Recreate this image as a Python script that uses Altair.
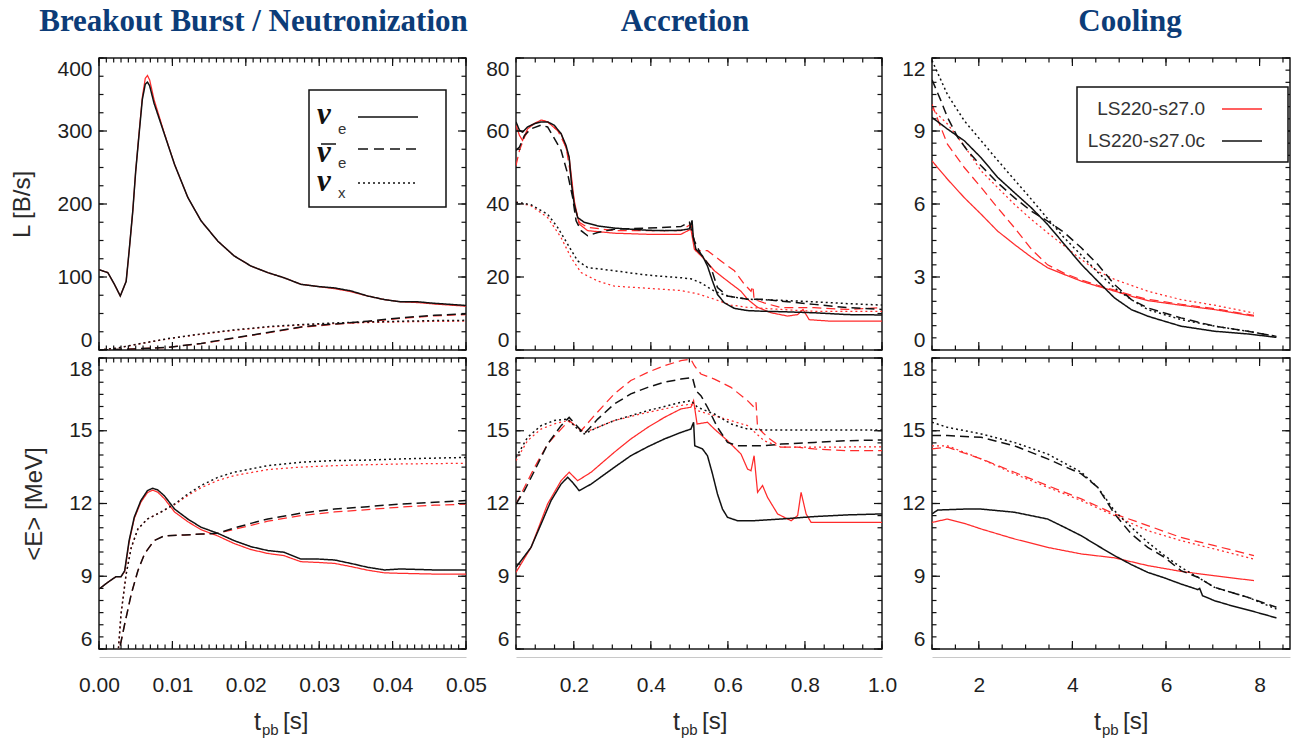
import altair as alt
import numpy as np
import pandas as pd

# ------------------------------------------------------------------ labels
MODELS = ["LS220-s27.0", "LS220-s27.0c"]
FLAVORS = ["nue", "anue", "nux"]
FLAVOR_SYMBOLS = ["ν", "ν", "ν"]
FLAVOR_BAR = [False, True, False]
FLAVOR_SUBS = ["e", "e", "x"]
COLUMN_TITLES = ["Breakout Burst / Neutronization", "Accretion", "Cooling"]
ROW_Y_TITLES = ["L [B/s]", "<E> [MeV]"]
X_TICK_LABELS = [[0.0, 0.01, 0.02, 0.03, 0.04, 0.05], [0.2, 0.4, 0.6, 0.8, 1.0], [2, 4, 6, 8]]
X_FORMATS = [".2f", ".1f", "d"]
X_DOMAINS = [[0.0, 0.05], [0.05, 1.0], [1.0, 8.65]]
X_MINOR_STEP = [0.001, 0.05, 0.5]
Y_TICK_LABELS = [[0, 100, 200, 300, 400], [0, 20, 40, 60, 80], [0, 3, 6, 9, 12],
                 [6, 9, 12, 15, 18], [6, 9, 12, 15, 18], [6, 9, 12, 15, 18]]
Y_DOMAINS = [[0, 400], [0, 80], [0, 12], [6, 18], [6, 18], [6, 18]]
Y_MINOR_STEP = [25, 5, 0.5, 0.5, 0.5, 0.5]

# ------------------------------------------------------------------ data: breakout burst, luminosity
BURST_L_NUE_RED = [[0, 110], [0.0012, 106], [0.0021, 90], [0.0029, 74], [0.0037, 94], [0.0041, 135],
                   [0.0046, 190], [0.0050, 245], [0.0055, 302], [0.0059, 346], [0.0063, 372], [0.0066, 376],
                   [0.0069, 370], [0.0075, 343], [0.0089, 297], [0.0103, 254], [0.0121, 209], [0.0139, 177],
                   [0.0162, 149], [0.0184, 129], [0.0207, 115], [0.023, 106], [0.0252, 99], [0.0275, 90],
                   [0.0298, 87], [0.0321, 84], [0.0343, 80], [0.0366, 74], [0.0389, 69], [0.0411, 66],
                   [0.0434, 65], [0.0457, 63], [0.05, 60]]
BURST_L_NUE_BLK = [[0, 110], [0.0012, 106], [0.0021, 90], [0.0029, 74], [0.0037, 94], [0.0041, 135],
                   [0.0046, 190], [0.0050, 245], [0.0055, 300], [0.0059, 343], [0.0063, 364], [0.0066, 367],
                   [0.0069, 362], [0.0075, 338], [0.0089, 296], [0.0103, 254], [0.0121, 209], [0.0139, 177],
                   [0.0162, 149], [0.0184, 129], [0.0207, 115], [0.023, 106], [0.0252, 99], [0.0275, 90],
                   [0.0298, 87], [0.0321, 85], [0.0343, 81], [0.0366, 74], [0.0389, 69], [0.0411, 66],
                   [0.0434, 66], [0.0457, 64], [0.05, 61]]
BURST_L_ANUE_RED = [[0, 0], [0.0048, 1.4], [0.0094, 3.6], [0.0139, 8.8], [0.0184, 16.2], [0.023, 23.6],
                    [0.0275, 31.0], [0.0321, 35.2], [0.0366, 38.9], [0.0411, 43.3], [0.0457, 46.8], [0.05, 48.5]]
BURST_L_ANUE_BLK = [[0, 0], [0.0048, 1.5], [0.0094, 3.7], [0.0139, 9.0], [0.0184, 16.5], [0.023, 24.0],
                    [0.0275, 31.6], [0.0321, 35.7], [0.0366, 39.4], [0.0411, 44.0], [0.0457, 47.6], [0.05, 49.4]]
BURST_L_NUX_RED = [[0, 0], [0.0025, 2.6], [0.0048, 7.1], [0.0094, 15.3], [0.0139, 21.6], [0.0184, 27.0],
                   [0.023, 31.4], [0.0275, 34.1], [0.0321, 36.2], [0.0366, 37.6], [0.0411, 38.5],
                   [0.0457, 39.2], [0.05, 39.5]]
BURST_L_NUX_BLK = [[0, 0], [0.0025, 2.7], [0.0048, 7.3], [0.0094, 15.6], [0.0139, 22.0], [0.0184, 27.5],
                   [0.023, 32.0], [0.0275, 34.8], [0.0321, 37.0], [0.0366, 38.4], [0.0411, 39.4],
                   [0.0457, 40.3], [0.05, 40.6]]

# ------------------------------------------------------------------ data: accretion, luminosity
ACC_L_NUE_RED = [[0.05, 61.6], [0.059, 58.8], [0.067, 57.4], [0.080, 60.6], [0.098, 62], [0.115, 63],
                 [0.132, 62.5], [0.167, 59.3], [0.188, 52.8], [0.201, 41], [0.214, 34.5], [0.236, 32.7],
                 [0.305, 32.0], [0.392, 31.7], [0.478, 31.7], [0.504, 33.1], [0.513, 27.6], [0.539, 24.9],
                 [0.565, 21.7], [0.599, 18.9], [0.634, 16.1], [0.651, 13.9], [0.677, 11.7], [0.712, 10.2],
                 [0.755, 9.3], [0.781, 9.7], [0.795, 11.1], [0.811, 8.3], [0.867, 7.9], [1.0, 7.9]]
ACC_L_NUE_BLK = [[0.05, 62.5], [0.059, 60.2], [0.067, 59.7], [0.080, 61.1], [0.098, 62], [0.115, 62.5],
                 [0.132, 62.5], [0.149, 61.6], [0.167, 59.3], [0.180, 56], [0.188, 52.8], [0.194, 45.5],
                 [0.201, 40], [0.210, 36.3], [0.227, 35], [0.262, 34], [0.305, 33.4], [0.348, 33.1],
                 [0.392, 32.8], [0.435, 32.7], [0.478, 32.8], [0.500, 33.2], [0.507, 35.5], [0.510, 31],
                 [0.517, 27.6], [0.534, 25.8], [0.547, 23], [0.560, 18.9], [0.573, 15.2], [0.591, 12.9],
                 [0.617, 11.4], [0.651, 10.8], [0.694, 10.6], [0.738, 10.5], [0.824, 10.2], [0.911, 9.7],
                 [1.0, 9.6]]
ACC_L_ANUE_RED = [[0.05, 50.5], [0.059, 54.7], [0.072, 58.3], [0.089, 61.6], [0.115, 63], [0.132, 62.5],
                  [0.158, 60.2], [0.180, 55.6], [0.193, 47.3], [0.203, 39], [0.214, 35], [0.236, 33.6],
                  [0.305, 32.7], [0.392, 32.7], [0.478, 32.7], [0.504, 34.5], [0.517, 27.2], [0.547, 27.2],
                  [0.582, 24.4], [0.617, 21.7], [0.643, 18], [0.660, 16.1], [0.665, 17.5], [0.668, 13.9],
                  [0.694, 12.9], [0.738, 11.6], [0.824, 11.6], [0.911, 11.1], [1.0, 11.6]]
ACC_L_ANUE_BLK = [[0.05, 54.7], [0.059, 55.6], [0.072, 58.8], [0.089, 60.6], [0.115, 61.6], [0.132, 61.1],
                  [0.145, 58.8], [0.167, 54.7], [0.184, 48.3], [0.197, 41.8], [0.206, 35.4], [0.219, 32.7],
                  [0.236, 31.3], [0.262, 32.2], [0.305, 33.1], [0.392, 33.4], [0.478, 33.8], [0.50, 35],
                  [0.513, 29.9], [0.530, 26.2], [0.556, 22.6], [0.573, 17.1], [0.599, 14.8], [0.651, 13.9],
                  [0.694, 13.9], [0.738, 13.4], [0.824, 12.5], [0.911, 11.6], [1.0, 11.1]]
ACC_L_NUX_RED = [[0.05, 40.5], [0.089, 39.5], [0.132, 36.3], [0.167, 30.8], [0.193, 25.3], [0.219, 21.2],
                 [0.262, 18.9], [0.305, 17.5], [0.392, 16.9], [0.478, 16.3], [0.521, 15.4], [0.565, 13.9],
                 [0.608, 12.3], [0.651, 11.7], [0.738, 11.1], [0.824, 10.6], [0.911, 10.6], [1.0, 10.6]]
ACC_L_NUX_BLK = [[0.05, 40.5], [0.089, 39.8], [0.132, 37.2], [0.158, 33.6], [0.184, 29], [0.210, 24.4],
                 [0.236, 22.6], [0.305, 21.7], [0.392, 20.5], [0.478, 19.8], [0.504, 19.5], [0.530, 18.4],
                 [0.565, 16.1], [0.599, 14.8], [0.651, 13.9], [0.738, 13.6], [0.824, 13.2], [0.911, 12.7],
                 [1.0, 12.3]]

# ------------------------------------------------------------------ data: cooling, luminosity
COOL_L_NUE_RED = [[1.0, 7.77], [1.33, 7.02], [1.69, 6.26], [2.05, 5.58], [2.40, 4.89], [2.76, 4.34],
                  [3.12, 3.82], [3.47, 3.38], [3.83, 3.10], [4.19, 2.83], [4.54, 2.62], [4.90, 2.42],
                  [5.26, 2.21], [5.61, 2.03], [6.32, 1.84], [7.04, 1.66], [7.88, 1.39]]
COOL_L_NUE_BLK = [[1.0, 9.56], [1.33, 9.08], [1.69, 8.6], [2.05, 7.9], [2.40, 7.1], [2.76, 6.47],
                  [3.12, 5.85], [3.47, 5.16], [3.83, 4.34], [4.19, 3.52], [4.54, 2.83], [4.90, 2.14],
                  [5.26, 1.66], [5.61, 1.39], [5.97, 1.18], [6.32, 0.98], [7.04, 0.77], [7.75, 0.66],
                  [8.36, 0.52]]
COOL_L_ANUE_RED = [[1.0, 10.1], [1.16, 9.29], [1.33, 8.46], [1.69, 7.5], [2.05, 6.68], [2.40, 5.85],
                   [2.76, 5.03], [3.12, 4.15], [3.47, 3.5], [3.83, 3.15], [4.19, 2.88], [4.54, 2.66],
                   [4.90, 2.46], [5.26, 2.25], [5.61, 2.08], [6.32, 1.88], [7.04, 1.70], [7.88, 1.42]]
COOL_L_ANUE_BLK = [[1.0, 11.1], [1.19, 10.25], [1.33, 9.56], [1.55, 8.74], [1.76, 8.19], [2.05, 7.57],
                   [2.40, 6.88], [2.76, 6.26], [3.12, 5.71], [3.47, 5.3], [3.83, 4.82], [4.19, 4.2],
                   [4.54, 3.52], [4.90, 2.69], [5.26, 2.07], [5.61, 1.73], [6.32, 1.32], [7.04, 0.98],
                   [7.75, 0.77], [8.36, 0.56]]
COOL_L_NUX_RED = [[1.0, 9.9], [1.33, 9.29], [1.69, 8.39], [2.05, 7.36], [2.40, 6.68], [2.76, 5.99],
                  [3.12, 5.37], [3.47, 4.82], [3.83, 4.27], [4.19, 3.72], [4.54, 3.24], [4.90, 2.9],
                  [5.61, 2.42], [6.32, 2.07], [7.04, 1.84], [7.88, 1.52]]
COOL_L_NUX_BLK = [[1.0, 11.9], [1.33, 10.5], [1.69, 9.42], [2.05, 8.6], [2.40, 7.8], [2.76, 7.0],
                  [3.12, 6.2], [3.47, 5.4], [3.83, 4.6], [4.19, 3.9], [4.54, 3.2], [4.90, 2.55],
                  [5.26, 2.07], [5.61, 1.66], [6.32, 1.25], [7.04, 0.98], [7.75, 0.77], [8.36, 0.56]]

# ------------------------------------------------------------------ data: breakout burst, mean energy
BURST_E_NUE_RED = [[0, 8.47], [0.0012, 8.75], [0.0023, 8.98], [0.0030, 8.98], [0.0035, 9.2], [0.0041, 10.4],
                   [0.0048, 11.38], [0.0057, 12.05], [0.0066, 12.45], [0.0073, 12.55], [0.0080, 12.47],
                   [0.0089, 12.2], [0.0103, 11.65], [0.0121, 11.25], [0.0139, 10.92], [0.0162, 10.66],
                   [0.0184, 10.35], [0.0207, 10.1], [0.023, 9.94], [0.0252, 9.85], [0.0275, 9.6],
                   [0.0298, 9.57], [0.0321, 9.53], [0.0343, 9.4], [0.0366, 9.25], [0.0389, 9.14],
                   [0.0411, 9.12], [0.0457, 9.09], [0.05, 9.09]]
BURST_E_NUE_BLK = [[0, 8.47], [0.0012, 8.75], [0.0023, 8.98], [0.0030, 8.98], [0.0035, 9.23], [0.0041, 10.47],
                   [0.0048, 11.43], [0.0057, 12.12], [0.0066, 12.53], [0.0073, 12.63], [0.0080, 12.56],
                   [0.0089, 12.32], [0.0103, 11.77], [0.0121, 11.36], [0.0139, 11.02], [0.0162, 10.77],
                   [0.0184, 10.47], [0.0207, 10.22], [0.023, 10.06], [0.0252, 9.99], [0.0275, 9.71],
                   [0.0298, 9.71], [0.0321, 9.67], [0.0343, 9.53], [0.0366, 9.37], [0.0389, 9.26],
                   [0.0411, 9.3], [0.0457, 9.26], [0.05, 9.26]]
BURST_E_ANUE_RED = [[0.0024, 5.0], [0.0028, 6.0], [0.0035, 7.03], [0.0044, 8.27], [0.0053, 9.23],
                    [0.0062, 9.92], [0.0075, 10.47], [0.0089, 10.67], [0.0116, 10.7], [0.0139, 10.74],
                    [0.0162, 10.77], [0.0184, 10.93], [0.0207, 11.1], [0.023, 11.27], [0.0275, 11.5],
                    [0.0321, 11.65], [0.0366, 11.75], [0.0411, 11.85], [0.0457, 11.93], [0.05, 11.97]]
BURST_E_ANUE_BLK = [[0.0024, 5.0], [0.0028, 6.0], [0.0035, 7.03], [0.0044, 8.27], [0.0053, 9.23],
                    [0.0062, 9.92], [0.0075, 10.47], [0.0089, 10.67], [0.0116, 10.7], [0.0139, 10.74],
                    [0.0162, 10.77], [0.0184, 10.99], [0.0207, 11.18], [0.023, 11.36], [0.0275, 11.6],
                    [0.0321, 11.77], [0.0366, 11.87], [0.0411, 11.98], [0.0457, 12.05], [0.05, 12.12]]
BURST_E_NUX_RED = [[0.0024, 5.0], [0.0030, 7.44], [0.0037, 9.09], [0.0044, 10.19], [0.0053, 10.95],
                   [0.0066, 11.36], [0.0084, 11.64], [0.0103, 11.95], [0.0121, 12.33], [0.0139, 12.65],
                   [0.0162, 12.95], [0.0184, 13.15], [0.023, 13.4], [0.0275, 13.5], [0.0321, 13.56],
                   [0.0366, 13.6], [0.0411, 13.63], [0.05, 13.66]]
BURST_E_NUX_BLK = [[0.0024, 5.0], [0.0030, 7.44], [0.0037, 9.09], [0.0044, 10.19], [0.0053, 10.95],
                   [0.0066, 11.36], [0.0084, 11.64], [0.0103, 11.98], [0.0121, 12.39], [0.0139, 12.74],
                   [0.0162, 13.08], [0.0184, 13.29], [0.023, 13.56], [0.0275, 13.7], [0.0321, 13.77],
                   [0.0366, 13.79], [0.0411, 13.84], [0.05, 13.9]]

# ------------------------------------------------------------------ data: accretion, mean energy
ACC_E_NUE_RED = [[0.05, 9.16], [0.089, 10.19], [0.132, 11.98], [0.167, 12.94], [0.188, 13.29], [0.210, 12.94],
                 [0.245, 13.29], [0.305, 14.11], [0.348, 14.66], [0.392, 15.14], [0.435, 15.55], [0.478, 15.9],
                 [0.504, 15.97], [0.511, 16.24], [0.520, 15.28], [0.547, 15.35], [0.565, 15.07], [0.599, 14.59],
                 [0.634, 14.04], [0.651, 13.42], [0.660, 13.35], [0.668, 13.97], [0.677, 12.46], [0.690, 12.74],
                 [0.703, 12.25], [0.729, 11.57], [0.764, 11.29], [0.781, 11.5], [0.790, 12.46], [0.803, 11.57],
                 [0.816, 11.22], [0.867, 11.22], [1.0, 11.22]]
ACC_E_NUE_BLK = [[0.05, 9.37], [0.063, 9.64], [0.089, 10.19], [0.115, 11.15], [0.141, 12.12], [0.167, 12.8],
                 [0.184, 13.08], [0.197, 12.87], [0.214, 12.53], [0.245, 12.8], [0.305, 13.49], [0.348, 13.97],
                 [0.392, 14.34], [0.435, 14.66], [0.478, 14.93], [0.504, 15.07], [0.511, 15.35], [0.514, 14.38],
                 [0.534, 14.25], [0.547, 13.97], [0.560, 13.22], [0.573, 12.39], [0.586, 11.77], [0.599, 11.43],
                 [0.625, 11.29], [0.668, 11.29], [0.738, 11.36], [0.824, 11.46], [0.911, 11.53], [1.0, 11.57]]
ACC_E_ANUE_RED = [[0.05, 11.98], [0.072, 12.67], [0.098, 13.49], [0.132, 14.45], [0.167, 15.07],
                  [0.188, 15.42], [0.219, 15.0], [0.253, 15.62], [0.305, 16.52], [0.348, 17.07],
                  [0.392, 17.41], [0.435, 17.68], [0.478, 17.89], [0.504, 17.95], [0.513, 17.68],
                  [0.530, 17.34], [0.565, 17.13], [0.608, 16.79], [0.651, 16.24], [0.668, 15.97],
                  [0.673, 16.17], [0.677, 15.14], [0.703, 14.73], [0.738, 14.32], [0.781, 14.32],
                  [0.824, 14.25], [0.911, 14.18], [1.0, 14.18]]
ACC_E_ANUE_BLK = [[0.05, 11.98], [0.072, 12.53], [0.098, 13.35], [0.132, 14.45], [0.167, 15.21],
                  [0.188, 15.55], [0.227, 14.87], [0.262, 15.48], [0.305, 16.1], [0.348, 16.52],
                  [0.392, 16.79], [0.435, 17.0], [0.478, 17.13], [0.508, 17.2], [0.517, 16.65],
                  [0.530, 16.45], [0.547, 15.97], [0.573, 15.14], [0.599, 14.52], [0.625, 14.38],
                  [0.694, 14.38], [0.738, 14.45], [0.824, 14.52], [0.911, 14.59], [1.0, 14.62]]
ACC_E_NUX_RED = [[0.05, 13.77], [0.080, 14.59], [0.115, 15.07], [0.149, 15.28], [0.184, 15.42],
                 [0.210, 15.14], [0.227, 14.93], [0.262, 15.14], [0.305, 15.42], [0.392, 15.76],
                 [0.478, 16.04], [0.504, 16.1], [0.521, 15.83], [0.565, 15.62], [0.608, 15.42],
                 [0.651, 15.21], [0.694, 14.59], [0.738, 14.32], [0.824, 14.32], [1.0, 14.34]]
ACC_E_NUX_BLK = [[0.05, 13.9], [0.080, 14.73], [0.115, 15.21], [0.149, 15.42], [0.184, 15.48],
                 [0.210, 15.07], [0.227, 14.87], [0.262, 15.14], [0.305, 15.42], [0.392, 15.83],
                 [0.478, 16.17], [0.504, 16.24], [0.521, 15.97], [0.565, 15.69], [0.608, 15.28],
                 [0.651, 15.07], [0.694, 15.03], [1.0, 15.03]]

# ------------------------------------------------------------------ data: cooling, mean energy
COOL_E_NUE_RED = [[1.0, 11.22], [1.33, 11.36], [1.69, 11.18], [2.05, 10.95], [2.76, 10.54], [3.47, 10.19],
                  [4.19, 9.92], [4.90, 9.76], [5.61, 9.44], [6.32, 9.2], [7.04, 9.02], [7.88, 8.82]]
COOL_E_NUE_BLK = [[1.0, 11.57], [1.12, 11.73], [1.69, 11.77], [2.05, 11.77], [2.76, 11.64], [3.47, 11.36],
                  [3.83, 11.02], [4.19, 10.67], [4.54, 10.26], [4.90, 9.85], [5.26, 9.48], [5.61, 9.16],
                  [5.97, 8.93], [6.32, 8.68], [6.68, 8.45], [6.72, 8.5], [6.78, 8.2], [7.04, 7.99],
                  [7.39, 7.79], [7.75, 7.61], [8.11, 7.42], [8.36, 7.28]]
COOL_E_ANUE_RED = [[1.0, 14.25], [1.33, 14.32], [2.05, 13.84], [2.76, 13.29], [3.47, 12.74], [4.19, 12.19],
                   [4.90, 11.57], [5.61, 11.09], [6.32, 10.6], [7.04, 10.26], [7.88, 9.85]]
COOL_E_ANUE_BLK = [[1.0, 14.8], [1.33, 14.8], [2.05, 14.73], [2.76, 14.38], [3.47, 13.84], [4.19, 13.22],
                   [4.54, 12.67], [4.90, 11.57], [5.26, 10.74], [5.61, 10.19], [5.97, 9.78], [6.32, 9.23],
                   [6.68, 8.96], [7.04, 8.54], [7.75, 8.13], [8.36, 7.72]]
COOL_E_NUX_RED = [[1.0, 14.38], [1.33, 14.38], [2.05, 13.84], [2.76, 13.22], [3.47, 12.67], [4.19, 12.12],
                  [4.90, 11.5], [5.61, 10.88], [6.32, 10.47], [7.04, 10.12], [7.88, 9.71]]
COOL_E_NUX_BLK = [[1.0, 15.35], [1.33, 15.14], [2.05, 14.87], [2.76, 14.52], [3.47, 14.04], [4.19, 13.29],
                  [4.54, 12.67], [4.90, 11.7], [5.26, 11.02], [5.61, 10.4], [5.97, 9.85], [6.32, 9.37],
                  [6.68, 8.96], [7.04, 8.54], [7.75, 8.13], [8.36, 7.65]]

PANEL_SERIES = [
    [BURST_L_NUE_RED, BURST_L_ANUE_RED, BURST_L_NUX_RED, BURST_L_NUE_BLK, BURST_L_ANUE_BLK, BURST_L_NUX_BLK],
    [ACC_L_NUE_RED, ACC_L_ANUE_RED, ACC_L_NUX_RED, ACC_L_NUE_BLK, ACC_L_ANUE_BLK, ACC_L_NUX_BLK],
    [COOL_L_NUE_RED, COOL_L_ANUE_RED, COOL_L_NUX_RED, COOL_L_NUE_BLK, COOL_L_ANUE_BLK, COOL_L_NUX_BLK],
    [BURST_E_NUE_RED, BURST_E_ANUE_RED, BURST_E_NUX_RED, BURST_E_NUE_BLK, BURST_E_ANUE_BLK, BURST_E_NUX_BLK],
    [ACC_E_NUE_RED, ACC_E_ANUE_RED, ACC_E_NUX_RED, ACC_E_NUE_BLK, ACC_E_ANUE_BLK, ACC_E_NUX_BLK],
    [COOL_E_NUE_RED, COOL_E_ANUE_RED, COOL_E_NUX_RED, COOL_E_NUE_BLK, COOL_E_ANUE_BLK, COOL_E_NUX_BLK],
]

# ------------------------------------------------------------------ styles / layout
RED = "#ff2b2b"
BLACK = "#111111"
NAVY = "#0c3c78"
SANS = "Liberation Sans"
SERIF = "Liberation Serif"
LABEL_COLOR = "#1e1e1e"
WIDTHS = [367, 366, 358]
HEIGHTS = [292, 291]
MAJOR_LEN = 8
MINOR_LEN = 4.5
TITLE_DX = [-29, -14, 19]
XTITLE_START = [155, 157, 162]


def one_row():
    return pd.DataFrame({"k": [0]})


def series_frame(series_list, model):
    rows = []
    for j, pairs in enumerate(series_list):
        m = MODELS[j // 3]
        if m != model:
            continue
        f = FLAVORS[j % 3]
        for i, (t, v) in enumerate(pairs):
            rows.append({"t": t, "v": v, "model": m, "flavor": f, "i": i})
    return pd.DataFrame(rows)


def tick_values(lo, hi, step):
    n = int(round((hi - lo) / step))
    return [round(lo + k * step, 6) for k in range(n + 1)]


def make_panel(idx):
    row, col = divmod(idx, 3)
    w, h = WIDTHS[col], HEIGHTS[row]
    xs = alt.Scale(domain=X_DOMAINS[col], nice=False, zero=False)
    ys = alt.Scale(domain=Y_DOMAINS[idx], nice=False, zero=False)

    if row == 1:
        xaxis = alt.Axis(values=X_TICK_LABELS[col], format=X_FORMATS[col], title="", grid=False,
                         ticks=False, tickSize=0, domain=True, domainColor="#c8c8c8", domainWidth=1,
                         offset=8, labelPadding=17, labelFontSize=21, labelFont=SANS,
                         labelColor=LABEL_COLOR, labelOverlap=False, labelBound=False, labelFlush=False)
    else:
        xaxis = None
    ykw = dict(values=Y_TICK_LABELS[idx], format="d", grid=False, ticks=False, tickSize=0, domain=False,
               labelFlush=True, labelPadding=7, labelFontSize=21, labelFont=SANS, labelColor=LABEL_COLOR,
               labelOverlap=False)
    if col == 0:
        ykw.update(title=ROW_Y_TITLES[row], titleFont=SANS, titleFontSize=24, titleFontWeight="normal",
                   titleColor="#2a2a2a", titlePadding=22)
    else:
        ykw.update(title="")
    yaxis = alt.Axis(**ykw)

    layers = []
    for k, model in enumerate(MODELS):
        df = series_frame(PANEL_SERIES[idx], model)
        enc = dict(
            x=alt.X("t:Q", scale=xs, axis=xaxis),
            y=alt.Y("v:Q", scale=ys, axis=yaxis),
            color=alt.Color("model:N", scale=alt.Scale(domain=MODELS, range=[RED, BLACK]), legend=None),
            strokeDash=alt.StrokeDash("flavor:N", scale=alt.Scale(domain=FLAVORS,
                                      range=[[1, 0], [9, 5], [2, 3]]), legend=None),
            order=alt.Order("i:Q"),
        )
        layers.append(alt.Chart(df).mark_line(clip=True, strokeWidth=1.25 if k == 0 else 1.5).encode(**enc))

    # inward frame ticks (major and minor) on all four sides
    ylo, yhi = Y_DOMAINS[idx]
    xlo, xhi = X_DOMAINS[col]
    y_major = pd.DataFrame({"v": Y_TICK_LABELS[idx]})
    y_minor = pd.DataFrame({"v": tick_values(ylo, yhi, Y_MINOR_STEP[idx])})
    x_major = pd.DataFrame({"t": [v for v in X_TICK_LABELS[col] if xlo <= v <= xhi]})
    x_minor = pd.DataFrame({"t": tick_values(xlo, xhi, X_MINOR_STEP[col])})
    tick_style = dict(color=BLACK, strokeWidth=1.2)
    for d, L in ((y_minor, MINOR_LEN), (y_major, MAJOR_LEN)):
        for a, b in ((0, L), (w - L, w)):
            layers.append(alt.Chart(d).mark_rule(**tick_style).encode(
                y=alt.Y("v:Q", scale=ys, axis=yaxis), x=alt.value(a), x2=alt.value(b)))
    for d, L in ((x_minor, MINOR_LEN), (x_major, MAJOR_LEN)):
        for a, b in ((0, L), (h - L, h)):
            layers.append(alt.Chart(d).mark_rule(**tick_style).encode(
                x=alt.X("t:Q", scale=xs, axis=xaxis), y=alt.value(a), y2=alt.value(b)))

    # x-axis title t_pb [s] for the bottom row
    if row == 1:
        x0 = XTITLE_START[col]
        layers.append(alt.Chart(one_row()).mark_text(text="t", font=SANS, fontSize=25, align="left",
                      baseline="alphabetic", color="#2a2a2a").encode(x=alt.value(x0), y=alt.value(h + 81)))
        layers.append(alt.Chart(one_row()).mark_text(text="pb", font=SANS, fontSize=15, align="left",
                      baseline="alphabetic", color="#2a2a2a").encode(x=alt.value(x0 + 8), y=alt.value(h + 86)))
        layers.append(alt.Chart(one_row()).mark_text(text="[s]", font=SANS, fontSize=24, align="left",
                      baseline="alphabetic", color="#2a2a2a").encode(x=alt.value(x0 + 29), y=alt.value(h + 80)))

    # flavour legend (panel 1)
    if idx == 0:
        layers.append(alt.Chart(one_row()).mark_rect(fill="white", stroke=BLACK, strokeWidth=1.5).encode(
            x=alt.value(210), x2=alt.value(347), y=alt.value(32), y2=alt.value(149)))
        rule_y = [59, 91, 125]
        nu_dy = [7, 13, 8]
        sub_dy = [17, 19, 15]
        dashes = [[1, 0], [10, 6], [2, 3]]
        for r in range(3):
            layers.append(alt.Chart(one_row()).mark_text(
                text=FLAVOR_SYMBOLS[r], font=SERIF, fontSize=31, fontStyle="italic", fontWeight="bold",
                align="left", baseline="alphabetic", color=BLACK).encode(
                x=alt.value(218), y=alt.value(rule_y[r] + nu_dy[r])))
            if FLAVOR_BAR[r]:
                layers.append(alt.Chart(one_row()).mark_rule(color=BLACK, strokeWidth=1.5).encode(
                    x=alt.value(222), x2=alt.value(237), y=alt.value(rule_y[r] - 5)))
            layers.append(alt.Chart(one_row()).mark_text(
                text=FLAVOR_SUBS[r], font=SANS, fontSize=15, align="left", baseline="alphabetic",
                color="#333333").encode(x=alt.value(239), y=alt.value(rule_y[r] + sub_dy[r])))
            layers.append(alt.Chart(one_row()).mark_rule(color=BLACK, strokeWidth=1.5,
                          strokeDash=dashes[r]).encode(x=alt.value(259), x2=alt.value(319),
                                                       y=alt.value(rule_y[r])))

    # model legend (panel 3)
    if idx == 2:
        layers.append(alt.Chart(one_row()).mark_rect(fill="white", stroke=BLACK, strokeWidth=1.5).encode(
            x=alt.value(145), x2=alt.value(356), y=alt.value(29), y2=alt.value(104)))
        ly = [51, 83]
        for r, (m, c) in enumerate(zip(MODELS, [RED, BLACK])):
            layers.append(alt.Chart(one_row()).mark_text(
                text=m, font=SANS, fontSize=19, align="right", baseline="middle", color="#333333").encode(
                x=alt.value(273), y=alt.value(ly[r])))
            layers.append(alt.Chart(one_row()).mark_rule(color=c, strokeWidth=1.6).encode(
                x=alt.value(290), x2=alt.value(330), y=alt.value(ly[r])))

    props = dict(width=w, height=h)
    if row == 0:
        props["title"] = alt.TitleParams(text=COLUMN_TITLES[col], font=SERIF, fontSize=31, fontWeight="bold",
                                         color=NAVY, anchor="middle", frame="group", dx=TITLE_DX[col],
                                         offset=-5, baseline="alphabetic")
    return alt.layer(*layers).properties(**props)


panels = [make_panel(i) for i in range(6)]
chart = alt.concat(*panels, columns=3, spacing={"row": 8, "column": 50}, bounds="flush").properties(
    padding={"left": 10, "top": 5, "right": 0, "bottom": 0}, background="white"
).configure_view(stroke="#1a1a1a", strokeWidth=1.5)

chart.save("out.html", embed_options={"renderer": "svg", "actions": False})
